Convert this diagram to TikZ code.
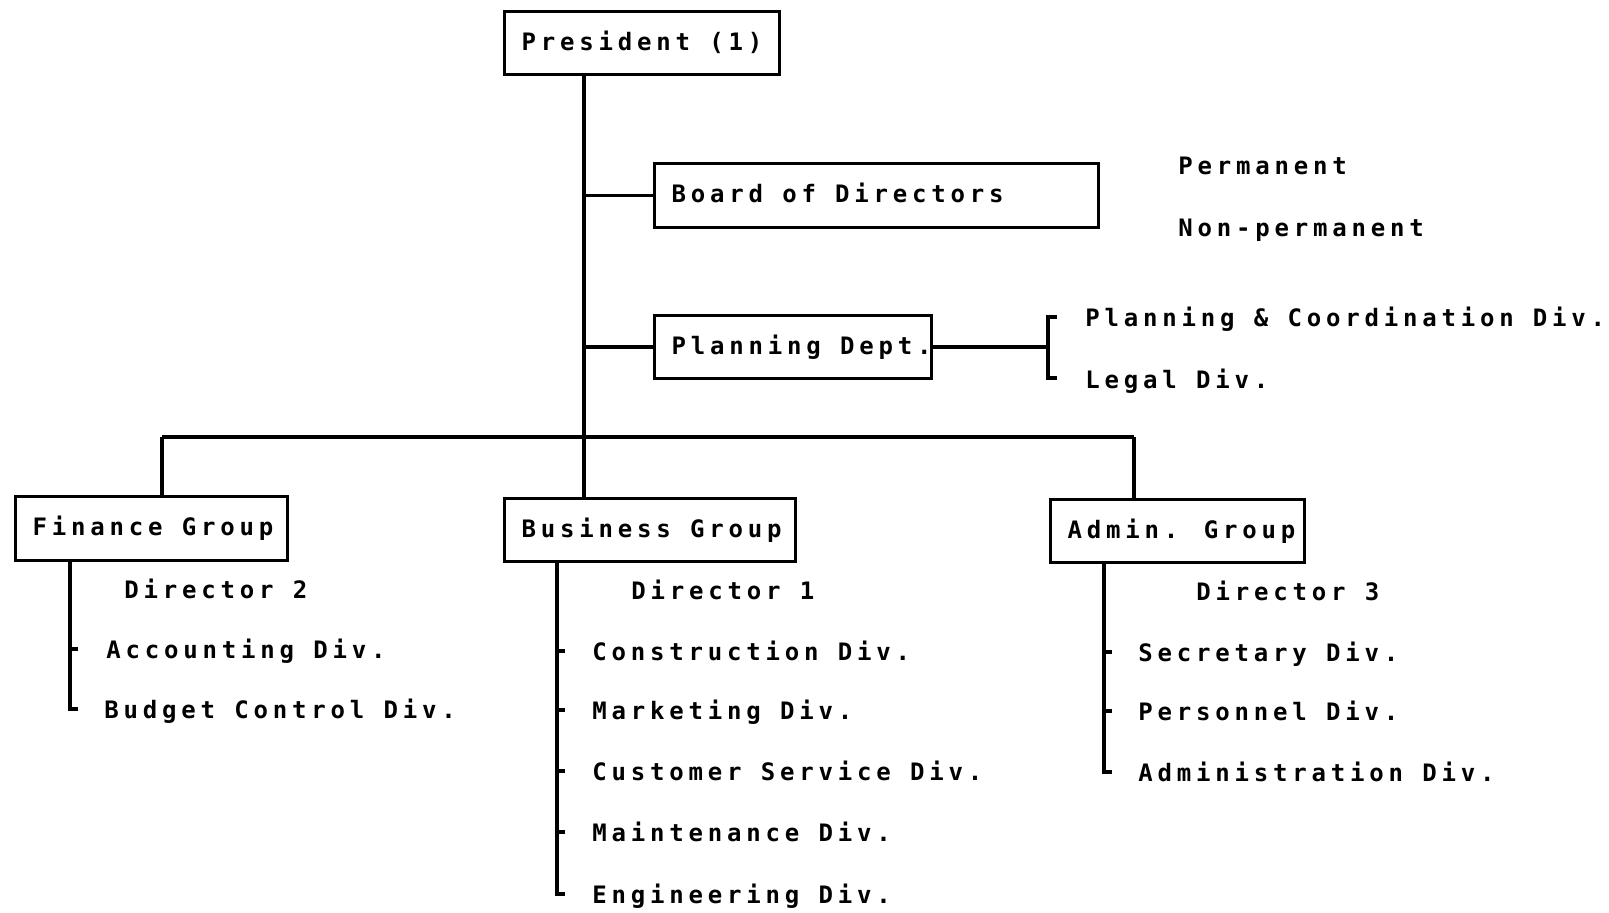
\documentclass[tikz,border=0pt]{standalone}
\usepackage{fontspec}
\newfontfamily\typ{DejaVu Sans Mono}[LetterSpace=20]
\newcommand\bxt[2]{\makebox[#1][l]{\hspace{8.5pt}#2\vphantom{(Ag}}}
\begin{document}
\begin{tikzpicture}[x=0.5pt,y=-0.5pt,
  every node/.style={font=\typ\bfseries\fontsize{12pt}{14pt}\selectfont},
  box/.style={draw, line width=1.6pt, inner sep=0pt, anchor=north west},
  lbl/.style={anchor=base west, inner sep=0pt},
  conn/.style={line width=1.7pt}]
\useasboundingbox (0,0) rectangle (1609,912);
% boxes
\node[box, minimum height=31.5pt] (pres) at (503,10) {\bxt{137.5pt}{President (1)}};
\node[box, minimum height=32pt] (board) at (653,162) {\bxt{222pt}{Board of Directors}};
\node[box, minimum height=31.5pt] (plan) at (653,314) {\bxt{138.5pt}{Planning Dept.}};
\node[box, minimum height=32pt] (fin) at (14,495) {\bxt{136pt}{Finance Group}};
\node[box, minimum height=31.5pt] (bus) at (503,497) {\bxt{145.5pt}{Business Group}};
\node[box, minimum height=31.5pt] (adm) at (1049,498) {\bxt{127pt}{Admin. Group}};
% labels
\node[lbl] (perm) at (1178,174) {Permanent};
\node[lbl] (nonperm) at (1178,236) {Non-permanent};
\node[lbl] (pcd) at (1085,326) {Planning \& Coordination Div.};
\node[lbl] (legal) at (1085,388) {Legal Div.};
\node[lbl] (dir2) at (124,598) {Director 2};
\node[lbl] (acc) at (106,658) {Accounting Div.};
\node[lbl] (bud) at (104,718) {Budget Control Div.};
\node[lbl] (dir1) at (631,599) {Director 1};
\node[lbl] (con) at (592,660) {Construction Div.};
\node[lbl] (mar) at (592,719) {Marketing Div.};
\node[lbl] (cus) at (592,780) {Customer Service Div.};
\node[lbl] (mai) at (592,841) {Maintenance Div.};
\node[lbl] (eng) at (592,903) {Engineering Div.};
\node[lbl] (dir3) at (1196,600) {Director 3};
\node[lbl] (sec) at (1138,661) {Secretary Div.};
\node[lbl] (per) at (1138,720) {Personnel Div.};
\node[lbl] (adv) at (1138,781) {Administration Div.};
% helper coordinates
\coordinate (tx) at (584,0);
\coordinate (busy) at (0,437);
\coordinate (fx) at (162,0);
\coordinate (ax) at (1134,0);
\coordinate (brk) at (1048,0);
\coordinate (fv) at (70,0);
\coordinate (bv) at (557,0);
\coordinate (av) at (1104,0);
% trunk and branches
\draw[conn] (pres.south -| tx) -- (bus.north -| tx);
\draw[conn] (board.west -| tx) -- (board.west);
\draw[conn] (plan.west -| tx) -- (plan.west);
\draw[conn] (plan.east) -- (plan.east -| brk);
\draw[conn] ([xshift=4.5pt]brk |- pcd.base) ++(0,-9) -- ++(-9,0) |- ([xshift=4.5pt,yshift=5pt]brk |- legal.base);
\draw[conn] (fx |- busy) -- (ax |- busy);
\draw[conn] (fx |- busy) -- (fin.north -| fx);
\draw[conn] (ax |- busy) -- (adm.north -| ax);
% finance list
\draw[conn] (fin.south -| fv) |- ([yshift=4.5pt,xshift=4pt]fv |- bud.base);
\draw[conn] ([yshift=4.5pt]fv |- acc.base) -- ++(8,0);
% business list
\draw[conn] (bus.south -| bv) |- ([yshift=4.5pt,xshift=4pt]bv |- eng.base);
\foreach \n in {con,mar,cus,mai}{
  \draw[conn] ([yshift=4.5pt]bv |- \n.base) -- ++(8,0);
}
% admin list
\draw[conn] (adm.south -| av) |- ([yshift=4.5pt,xshift=4pt]av |- adv.base);
\foreach \n in {sec,per}{
  \draw[conn] ([yshift=4.5pt]av |- \n.base) -- ++(8,0);
}
\end{tikzpicture}
\end{document}
